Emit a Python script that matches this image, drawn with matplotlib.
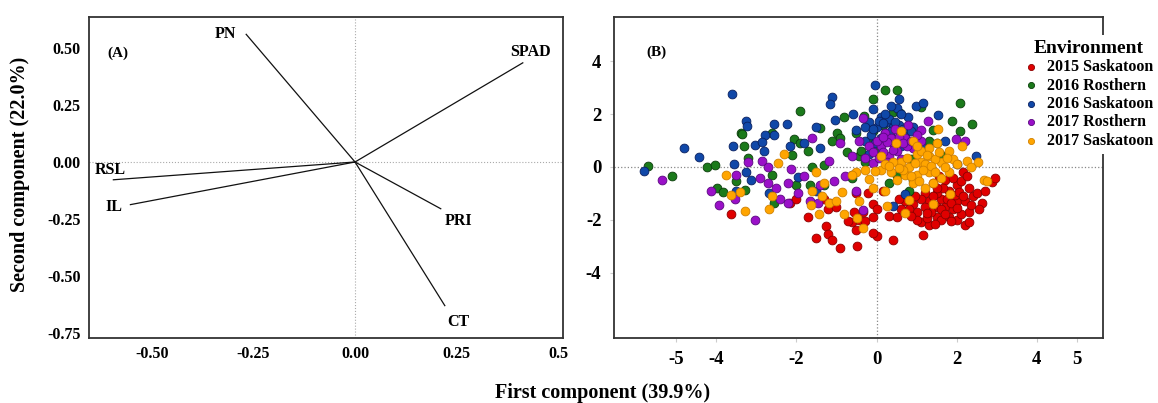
import matplotlib.pyplot as plt

# ---- panel A: loadings ----
var_names = ["PN", "SPAD", "RSL", "IL", "PRI", "CT"]
load_pc1 = [-0.268, 0.413, -0.595, -0.553, 0.211, 0.221]
load_pc2 = [0.560, 0.435, -0.078, -0.187, -0.205, -0.630]
label_x = [-0.318, 0.433, -0.603, -0.593, 0.254, 0.254]
label_y = [0.562, 0.482, -0.033, -0.196, -0.259, -0.702]

a_xticks = [-0.5, -0.25, 0.0, 0.25, 0.5]
a_xticklabels = ["-0.50", "-0.25", "0.00", "0.25", "0.5"]
a_yticks = [-0.75, -0.5, -0.25, 0.0, 0.25, 0.5]
a_yticklabels = ["-0.75", "-0.50", "-0.25", "0.00", "0.25", "0.50"]

# ---- panel B: scores ----
envs = ["2015 Saskatoon", "2016 Rosthern", "2016 Saskatoon", "2017 Rosthern", "2017 Saskatoon"]
env_colors = ["#e00000", "#1b7a1b", "#1048a8", "#9a10c8", "#ffa500"]
env_edges = ["#8b0000", "#0b3d0b", "#0a2060", "#5a0880", "#d08000"]

sask15 = [(-3.62, -1.79), (-2.15, -1.35), (-2.0, -1.23), (-1.72, -1.88), (-1.52, -2.69),
          (-1.26, -2.23), (-1.22, -2.55), (-1.1, -2.75), (-0.91, -3.08), (-0.48, -2.98),
          (-0.5, -2.4), (-0.6, -2.1), (-0.45, -2.0), (-0.3, -2.05), (-0.1, -1.9),
          (0.02, -2.63), (-0.08, -2.5), (0.41, -2.76), (0.3, -1.85), (0.5, -1.9),
          (-1.17, -1.35), (-1.3, -1.2), (-0.5, -1.0), (-0.21, -0.98), (-0.1, -1.4),
          (0.0, -1.6), (-0.35, -1.7), (-1.2, -1.6), (-1.0, -1.5), (-0.7, -2.05),
          (-0.55, -1.7), (0.15, -0.9), (1.16, -2.58), (1.1, -2.1), (1.3, -2.2),
          (1.25, -1.95), (1.5, -1.9), (1.7, -1.5), (1.8, -1.9), (2.0, -2.0),
          (2.2, -2.2), (2.3, -2.1), (2.3, -1.7), (2.62, -1.38), (2.88, -0.58),
          (2.96, -0.4), (2.4, -1.1), (2.3, -0.8), (2.15, -0.18), (2.0, -0.7),
          (1.8, -0.9), (1.6, -1.2), (1.5, -1.5), (1.2, -1.0), (1.0, -1.7),
          (0.9, -1.4), (0.7, -1.3), (0.6, -1.6), (1.4, -0.6), (1.7, -0.5),
          (1.9, -0.4), (2.0, -1.3), (1.9, -1.6), (1.3, -1.3), (1.1, -1.2),
          (0.8, -1.6), (2.2, -1.3), (1.5, -1.0), (1.6, -2.0), (2.1, -1.8),
          (1.75, -1.2), (1.95, -1.05), (2.05, -0.95), (2.1, -0.55), (1.65, -0.8),
          (1.35, -1.7), (1.0, -2.0), (0.95, -1.1), (1.45, -2.15), (1.85, -2.05),
          (2.5, -1.0), (2.7, -0.9), (2.55, -1.6), (0.55, -1.2), (2.25, -0.35),
          (1.55, -0.35), (1.2, -1.5), (1.4, -1.1), (1.6, -1.6), (1.85, -1.35),
          (2.15, -1.1), (1.25, -1.75), (1.7, -1.8), (2.0, -1.55), (1.5, -0.8),
          (0.85, -1.85), (2.35, -1.45)]

ros16 = [(-5.71, 0.03), (-5.11, -0.35), (-4.23, 0.0), (-4.02, 0.09), (-3.98, -0.79),
         (-3.84, -0.95), (-3.5, -0.55), (-3.38, 1.30), (-3.35, 1.25), (-3.3, 0.78),
         (-3.2, 0.35), (-3.27, -0.88), (-2.61, -0.29), (-2.56, -1.35), (-2.06, 1.05),
         (-1.92, 2.12), (-2.1, 0.45), (-1.72, 0.59), (-1.65, -0.7), (-1.4, 1.47),
         (-1.6, 0.0), (-1.31, 0.09), (-1.3, -0.7), (-0.99, 1.30), (-0.8, 1.88),
         (-0.9, 1.1), (-0.73, 0.55), (-0.45, 0.4), (-0.5, 1.3), (-0.32, 1.93),
         (-0.1, 2.56), (0.22, 2.93), (0.52, 2.91), (0.4, 2.1), (0.58, 2.03),
         (0.3, 1.2), (1.11, 2.26), (1.4, 1.4), (1.89, 1.75), (2.07, 2.44),
         (2.39, 1.62), (2.07, 1.35), (1.62, 0.46), (1.5, 0.9), (0.9, -0.5),
         (0.5, -0.35), (0.8, -0.9), (0.0, 0.7), (-0.1, 1.35), (-2.6, 1.3),
         (-2.0, -0.7), (-0.2, 1.0), (0.7, 1.4), (-1.1, 1.0), (-0.6, -0.4),
         (0.3, -0.6), (1.2, 0.6), (0.15, 1.6), (-0.4, 0.6), (-1.9, 0.9),
         (0.55, 1.0), (-0.3, 0.2), (1.3, 1.0), (0.85, 0.3)]

sask16 = [(-5.8, -0.16), (-4.8, 0.71), (-4.44, 0.36), (-3.61, 2.76), (-3.59, 0.81),
          (-3.55, 0.1), (-3.5, -0.91), (-3.25, 1.75), (-3.22, 1.55), (-3.25, -0.2),
          (-3.04, 0.84), (-3.13, -0.48), (-2.79, 1.22), (-2.85, 0.95), (-2.8, 0.6),
          (-2.56, 1.63), (-2.55, 1.2), (-2.68, -0.98), (-2.24, 1.63), (-2.16, 0.78),
          (-1.96, -0.38), (-1.81, 0.9), (-1.52, 1.5), (-1.4, 0.71), (-1.1, 2.66),
          (-1.15, 2.4), (-1.03, 1.78), (-0.59, 2.0), (-0.5, 1.4), (-0.3, 1.0),
          (-0.1, 2.2), (-0.03, 3.1), (0.25, 1.7), (0.4, 1.5), (0.57, 2.59),
          (0.5, 2.25), (0.1, 1.1), (0.3, 1.8), (0.7, 1.2), (0.79, 1.88),
          (0.98, 2.31), (1.16, 2.43), (1.53, 1.97), (1.7, 1.0), (2.0, 0.1),
          (2.47, 0.4), (0.41, -1.48), (0.7, -1.04), (-0.2, 0.5), (0.6, 0.8),
          (0.2, 1.3), (-0.2, 1.7), (0.9, 1.5), (1.1, 0.8), (-0.6, -0.3),
          (-1.5, -0.9), (0.0, 1.5), (0.1, 1.9), (-0.15, 1.2), (0.35, 1.35),
          (0.55, 1.6), (0.05, 1.75), (0.2, 2.0), (-0.3, 1.5), (0.45, 1.05),
          (-0.05, 0.9), (0.65, 1.45), (0.15, 1.65), (0.45, 1.7), (0.35, 2.3),
          (0.6, 2.0), (-0.1, 1.45), (0.85, 1.35)]

ros17 = [(-5.35, -0.48), (-4.12, -0.91), (-3.94, -1.44), (-3.02, -2.0), (-3.54, -1.2),
         (-3.5, -0.3), (-3.2, 0.19), (-2.86, 0.24), (-2.7, -0.6), (-2.5, -0.8),
         (-2.4, -1.2), (-2.22, -1.38), (-2.13, -0.08), (-2.2, -0.6), (-1.8, -0.35),
         (-1.67, -1.29), (-1.46, -1.38), (-1.6, 1.09), (-1.19, 0.21), (-0.9, 0.9),
         (-0.79, -0.35), (-0.35, 1.84), (-0.33, -1.63), (-0.5, -0.9), (-0.1, 0.15),
         (0.1, 0.8), (0.2, 1.3), (0.4, 0.9), (0.5, 0.6), (0.3, 0.4),
         (0.7, 1.1), (0.79, 1.59), (1.1, 1.4), (1.28, 1.75), (1.1, 1.0),
         (1.98, 1.05), (2.2, 1.0), (1.2, 0.0), (-0.6, 0.4), (-1.4, -0.7),
         (-2.7, 0.0), (-0.2, 0.8), (0.0, 1.0), (-1.05, -0.55), (-2.9, -0.4),
         (-1.95, -1.0), (0.15, 0.55), (0.35, 1.1), (0.6, 0.3), (0.9, 0.7),
         (-0.3, 0.35), (0.45, 1.45), (1.0, 1.2), (0.25, 0.2), (-0.45, 1.0),
         (0.25, 0.95), (0.55, 1.15), (0.75, 0.8), (0.15, 1.15), (0.4, 0.65),
         (0.65, 0.9), (-0.1, 0.55), (0.85, 1.0), (0.05, 0.35)]

sask17 = [(-3.75, -0.31), (-3.63, -1.08), (-3.41, -0.95), (-3.27, -1.67), (-2.69, -1.58),
          (-2.6, -1.1), (-2.45, 0.15), (-2.31, 0.5), (-1.64, -1.45), (-1.6, -0.9),
          (-1.44, -1.79), (-1.5, -0.2), (-1.3, -0.6), (-1.19, -1.35), (-1.0, -1.3),
          (-0.8, -1.79), (-0.85, -0.95), (-0.48, -1.92), (-0.35, -2.33), (-0.45, -1.3),
          (-0.5, -0.2), (-0.2, -0.45), (-0.1, -0.8), (0.1, -0.1), (0.11, 0.4),
          (0.2, -0.9), (0.27, -1.48), (0.49, 0.9), (0.6, 0.2), (0.7, -0.3),
          (0.7, -1.73), (0.8, -1.25), (0.61, 1.38), (1.0, 0.5), (1.1, 0.2),
          (1.0, -0.3), (1.2, 0.1), (1.3, 0.4), (1.3, -0.2), (1.4, -0.6),
          (1.5, 0.9), (1.53, 1.43), (1.4, -1.4), (1.8, 0.6), (1.9, 0.3),
          (2.14, 0.81), (1.8, -0.2), (1.84, -1.04), (2.26, 0.24), (2.53, 0.18),
          (2.67, -0.48), (2.75, -0.55), (0.9, 1.0), (1.1, 0.6), (0.8, 0.0),
          (0.4, 0.2), (0.2, 0.1), (1.6, 0.2), (1.6, -0.4), (1.2, -0.8),
          (0.9, -0.6), (1.7, 0.0), (2.0, 0.1), (0.5, -0.5), (1.0, 0.8),
          (1.3, 0.7), (-1.35, -1.1), (-0.6, -0.3), (0.35, -0.2), (1.45, 0.3),
          (0.75, 0.35), (0.95, 0.15), (1.15, -0.1), (1.35, 0.05), (1.55, 0.55),
          (1.25, 0.45), (0.65, -0.1), (0.85, -0.35), (1.05, -0.55), (1.75, 0.35),
          (2.35, 0.0), (1.45, -0.2), (0.3, 0.05), (-0.05, -0.15), (-0.3, -0.1),
          (0.55, -0.05)]

env_points = [sask15, ros16, sask16, ros17, sask17]

b_xticks = [-5, -4, -2, 0, 2, 4, 5]
b_yticks = [-4, -2, 0, 2, 4]

plt.rcParams["font.family"] = ["Liberation Serif", "DejaVu Serif"]
plt.rcParams["font.weight"] = "bold"
plt.rcParams["axes.unicode_minus"] = False

fig = plt.figure(figsize=(11.58, 4.03), dpi=100)
W, H = 1158, 403


def frame(x0, x1, y0, y1):
    return [x0 / W, 1 - y1 / H, (x1 - x0) / W, (y1 - y0) / H]


# panel A
ax1 = fig.add_axes(frame(89, 563, 17, 338))
ax1.axhline(0, color="#aaaaaa", lw=0.8, ls=":")
ax1.axvline(0, color="#aaaaaa", lw=0.8, ls=":")
for name, px, py, lx, ly in zip(var_names, load_pc1, load_pc2, label_x, label_y):
    ax1.plot([0, px], [0, py], color="#111111", lw=0.9)
    ax1.text(lx, ly, name, ha="center", va="center", fontsize=11.5, fontweight="bold")
ax1.text(-0.583, 0.475, "(A)", ha="center", va="center", fontsize=11, fontweight="bold")
ax1.set_xlim(-0.655, 0.512)
ax1.set_ylim(-0.772, 0.636)
ax1.set_xticks(a_xticks, a_xticklabels)
ax1.set_yticks(a_yticks, a_yticklabels)
ax1.tick_params(length=0, labelsize=11.5, pad=6)

# panel B
ax2 = fig.add_axes(frame(614, 1103, 17, 338))
ax2.axhline(0, color="#888888", lw=0.9, ls=":")
ax2.axvline(0, color="#888888", lw=0.9, ls=":")
for pts, env, c, ec in zip(env_points, envs, env_colors, env_edges):
    xs = [p[0] for p in pts]
    ys = [p[1] for p in pts]
    ax2.scatter(xs, ys, s=40, color=c, edgecolors=ec, linewidths=0.6, label=env, zorder=3)
ax2.text(-5.5, 4.35, "(B)", ha="center", va="center", fontsize=11, fontweight="bold")
ax2.set_xlim(-6.55, 5.65)
ax2.set_ylim(-6.48, 5.68)
ax2.set_xticks(b_xticks)
ax2.set_yticks(b_yticks)
ax2.tick_params(length=3, color="#cccccc", labelsize=13.5, pad=6)

for ax in (ax1, ax2):
    for sp in ax.spines.values():
        sp.set_color("#333333")
        sp.set_linewidth(1.3)

leg = fig.legend(*ax2.get_legend_handles_labels(), loc="upper left",
                 bbox_to_anchor=(1012 / W, 1 - 27 / H), title="Environment",
                 frameon=True, fancybox=False, edgecolor="none", facecolor="white",
                 framealpha=1, fontsize=11.5, markerscale=0.7, handlelength=0.8,
                 handletextpad=0.6, labelspacing=0.15, borderpad=0.3,
                 title_fontproperties={"weight": "bold", "size": 14})
leg.set_zorder(10)

fig.text(20 / W, 1 - 174 / H, "Second component (22.0%)", rotation=90,
         ha="center", va="center", fontsize=14.5, fontweight="bold")
fig.text(603 / W, 1 - 393 / H, "First component (39.9%)",
         ha="center", va="center", fontsize=14.5, fontweight="bold")

fig.savefig("out.png", dpi=100)
